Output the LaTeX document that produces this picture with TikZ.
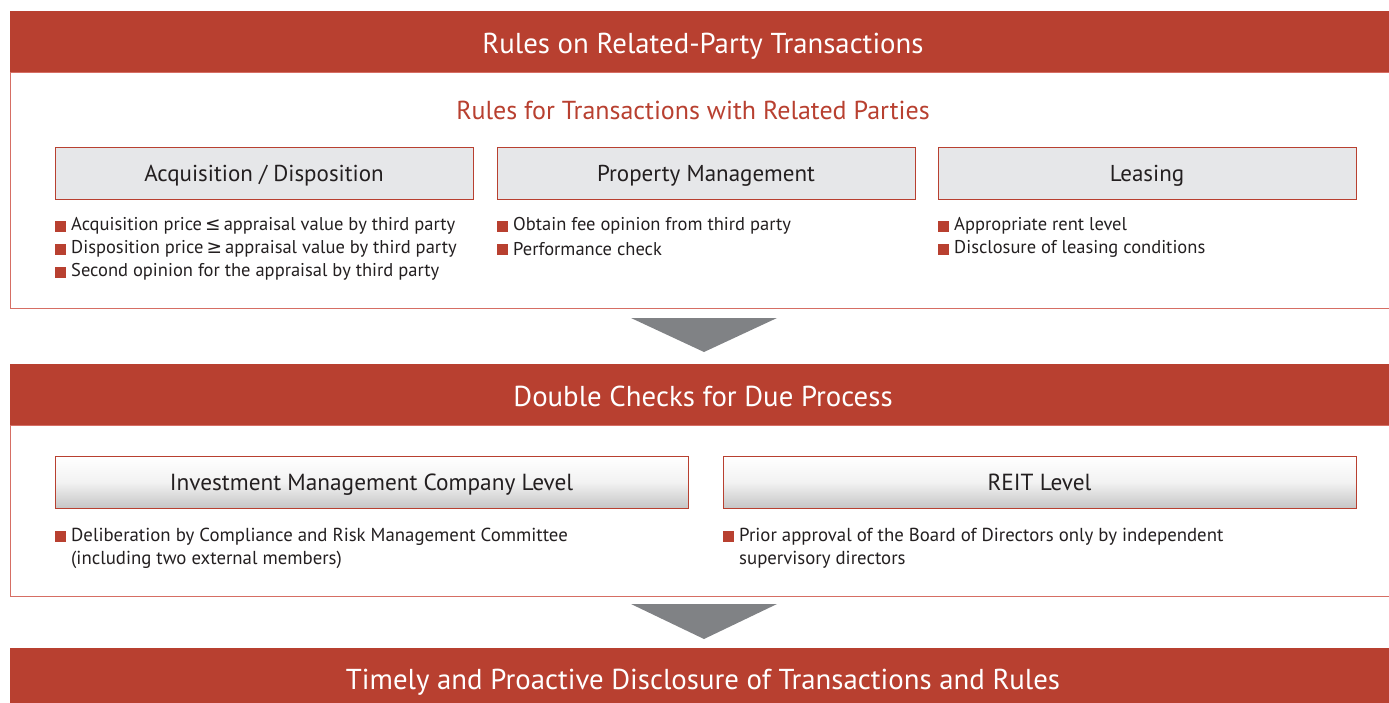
\documentclass[tikz,border=0pt]{standalone}
\usepackage{fontspec}
\setmainfont{PT Sans}
\newfontfamily\symf{DejaVu Sans}
\definecolor{hdr}{RGB}{184,64,48}
\definecolor{rim}{RGB}{214,110,100}
\definecolor{boxgray}{RGB}{230,231,233}
\definecolor{arrgray}{RGB}{128,130,133}
\definecolor{txt}{RGB}{35,31,32}
\newcommand\bitem[4]{\fill[hdr] (#2-16,#3-5.5) rectangle ++(11,11);
  \node[btxt] (#1) at (#2,#3) {#4};}
\begin{document}
\begin{tikzpicture}[x=1pt,y=-1pt,
  hdrtxt/.style={text=white,font=\fontsize{28.8}{32}\selectfont,inner sep=0pt,text height=20.2pt,text depth=0pt},
  catbox/.style={draw=hdr,line width=0.8pt,fill=boxgray,minimum height=52pt,inner sep=0pt,outer sep=0pt,text=txt,font=\fontsize{23}{26}\selectfont,text height=16.1pt,text depth=0pt},
  lvlbox/.style={draw=hdr,line width=0.8pt,top color=white,bottom color=gray!45,middle color=white!90!gray,minimum height=52pt,inner sep=0pt,outer sep=0pt,text=txt,font=\fontsize{23.3}{26}\selectfont,text height=16.3pt,text depth=0pt},
  btxt/.style={anchor=west,inner sep=0pt,text=txt,font=\fontsize{18.5}{23}\selectfont},
  ctxt/.style={anchor=west,inner sep=0pt,text=txt,align=left,font=\fontsize{18.8}{23}\selectfont},
  arrowtri/.style={fill=arrgray}]
\useasboundingbox (0,0) rectangle (1389,702);
% panel 1
\draw[rim,line width=1pt] (10,72) rectangle (1400,308);
\fill[hdr] (10,11) rectangle (1400,72);
\node[hdrtxt] (h1) at (703,43) {Rules on Related-Party Transactions};
\node[text=hdr,inner sep=0pt,font=\fontsize{26}{30}\selectfont,text height=18.2pt,text depth=0pt] (sub) at (693,110) {Rules for Transactions with Related Parties};
\node[catbox,minimum width=418pt] (acq) at (264,173) {Acquisition / Disposition};
\node[catbox,minimum width=418pt] (pm) at (706,173) {Property Management};
\node[catbox,minimum width=418pt] (lea) at (1147,173) {Leasing};
\bitem{a1}{71}{226}{Acquisition price{\symf\,≤\,}appraisal value by third party}
\bitem{a2}{71}{249}{Disposition price{\symf\,≥\,}appraisal value by third party}
\bitem{a3}{71}{272}{Second opinion for the appraisal by third party}
\bitem{p1}{513}{226}{Obtain fee opinion from third party}
\bitem{p2}{513}{249}{Performance check}
\bitem{l1}{954}{226}{Appropriate rent level}
\bitem{l2}{954}{249}{Disclosure of leasing conditions}
% arrow 1
\coordinate (t1a) at (631,318);
\coordinate (t1b) at (777,318);
\coordinate (t1c) at (704,352);
\fill[arrowtri] (t1a) -- (t1b) -- (t1c) -- cycle;
% panel 2
\draw[rim,line width=1pt] (10,425) rectangle (1400,596);
\fill[hdr] (10,364) rectangle (1400,425);
\node[hdrtxt] (h2) at (703,396) {Double Checks for Due Process};
\node[lvlbox,minimum width=633pt] (imc) at (371.5,482) {Investment Management Company Level};
\node[lvlbox,minimum width=633pt] (reit) at (1039.5,482) {REIT Level};
\fill[hdr] (55,531) rectangle ++(11,11);
\node[ctxt] (i1) at (71,548.5) {Deliberation by Compliance and Risk Management Committee\\(including two external members)};
\fill[hdr] (723,531) rectangle ++(11,11);
\node[ctxt] (r1) at (739,548.5) {Prior approval of the Board of Directors only by independent\\supervisory directors};
% arrow 2
\coordinate (t2a) at (631,604);
\coordinate (t2b) at (777,604);
\coordinate (t2c) at (704,639);
\fill[arrowtri] (t2a) -- (t2b) -- (t2c) -- cycle;
% panel 3
\fill[hdr] (10,648) rectangle (1400,720);
\node[hdrtxt] (h3) at (703,679) {Timely and Proactive Disclosure of Transactions and Rules};
\end{tikzpicture}
\end{document}
